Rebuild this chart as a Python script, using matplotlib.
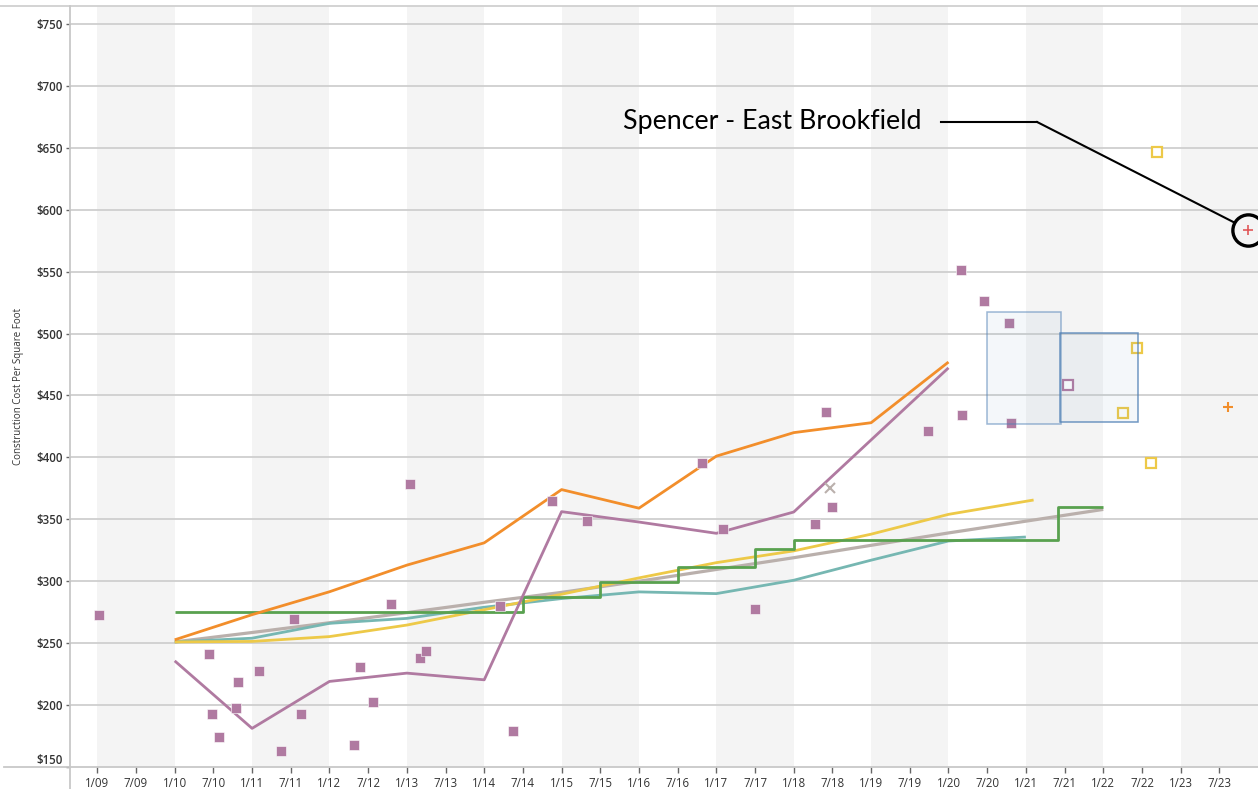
import matplotlib
matplotlib.use("Agg")
import matplotlib.pyplot as plt
from matplotlib.patches import Rectangle
from matplotlib.lines import Line2D

# ---------------- data ----------------
tick_pos = [2009 + 0.5 * i for i in range(30)]
tick_labels = []
for i in range(30):
    yr = 9 + i // 2
    tick_labels.append(("1/" if i % 2 == 0 else "7/") + f"{yr:02d}")
band_years = [2009, 2011, 2013, 2015, 2017, 2019, 2021, 2023]

y_ticks = [150, 200, 250, 300, 350, 400, 450, 500, 550, 600, 650, 700, 750]

orange_x = [2010, 2011, 2012, 2013, 2014, 2015, 2016, 2017, 2018, 2019, 2020]
orange_y = [252.7, 273, 291.5, 313, 331, 374, 359, 401, 420, 428, 477]

purple_x = [2010, 2011, 2012, 2013, 2014, 2015, 2016, 2017, 2018, 2020]
purple_y = [235.7, 181.2, 219.1, 225.8, 220.4, 356.2, 347.8, 338.7, 355.9, 472.3]

teal_x = [2010, 2011, 2012, 2013, 2014, 2015, 2016, 2017, 2018, 2019, 2020, 2021]
teal_y = [251, 254, 266, 270, 279, 286, 291.4, 290, 300.8, 317, 332.5, 335.7]

yellow_x = [2010, 2011, 2012, 2013, 2014, 2015, 2016, 2017, 2018, 2019, 2020, 2021.1]
yellow_y = [251, 251.4, 255.3, 264.6, 277, 289.5, 302.7, 315, 324.5, 338, 354, 365.6]

trend_x = [2010, 2011, 2012, 2013, 2014, 2015, 2016, 2017, 2018, 2019, 2020, 2021, 2022]
trend_y = [251, 258.6, 266.5, 274.6, 283, 291, 300, 309.5, 319, 329, 339, 348.5, 358]

green_x = [2010, 2014.5, 2015.5, 2016.5, 2017.5, 2018.0, 2021.42, 2022.0]
green_y = [275, 287.4, 299, 311.8, 326.3, 333, 360, 360]

sq_x = [2009.02, 2010.445, 2010.48, 2010.575, 2010.794, 2010.824, 2011.09, 2011.38,
        2011.54, 2011.635, 2012.32, 2012.395, 2012.56, 2012.80, 2013.045, 2013.17,
        2013.25, 2014.21, 2014.37, 2014.87, 2015.33, 2016.81, 2017.08, 2017.5,
        2018.27, 2018.42, 2018.49, 2019.73, 2020.16, 2020.18, 2020.46, 2020.78, 2020.81]
sq_y = [273.1, 241.4, 192.7, 174.4, 197.8, 218.8, 227.2, 163.1,
        269.9, 192.7, 168.0, 230.9, 202.4, 282.0, 378.8, 237.7,
        243.5, 280.1, 179.0, 364.5, 348.9, 395.2, 342.5, 277.4,
        346.5, 436.5, 360.2, 421.2, 551.4, 434.1, 526.6, 508.6, 427.7]

hollow_purple = ([2021.54], [458.1])
hollow_yellow = ([2022.44, 2022.25, 2022.62, 2022.70], [488.2, 435.5, 395.7, 646.8])
grey_x_pt = ([2018.475], [375.6])
orange_plus = ([2023.61], [441.1])
red_plus = ([2023.875], [583.9])

# boxes: (x0, x1, y_low, y_high)
boxes = [(2020.50, 2021.45, 426.9, 517.5), (2021.44, 2022.45, 428.8, 500.2)]

annot_text = "Spencer - East Brookfield"
annot_text_pos = (2015.80, 671)
annot_knee = [(2019.90, 2021.14), (671, 671)]

# ---------------- colours ----------------
C_ORANGE = "#f28e2b"
C_PURPLE = "#b07aa1"
C_TEAL = "#76b7b2"
C_YELLOW = "#edc948"
C_GREEN = "#59a14f"
C_GREY = "#bab0ac"
C_RED = "#e15759"
C_BLUE = "#4e79a7"

plt.rcParams['font.family'] = ['Open Sans', 'DejaVu Sans']

fig = plt.figure(figsize=(12.58, 7.89), dpi=100)
ax = fig.add_axes([70 / 1258, (789 - 767) / 789, (1258 - 70) / 1258, (767 - 6) / 789])
ax.set_xlim(2008.647, 2024.0)
ax.set_ylim(150, 764.5)

for by in band_years:
    ax.axvspan(by, by + 1, color="#f4f4f4", lw=0, zorder=0)

for yv in y_ticks[1:]:
    ax.axhline(yv, color="#cfcfcf", lw=1.3, zorder=0.5)

lw = 2.0
ax.plot(trend_x, trend_y, color=C_GREY, lw=lw + 0.3, zorder=3, solid_capstyle='butt')
ax.plot(teal_x, teal_y, color=C_TEAL, lw=lw, zorder=3, solid_capstyle='butt')
ax.plot(yellow_x, yellow_y, color=C_YELLOW, lw=lw, zorder=3, solid_capstyle='butt')
ax.plot(green_x, green_y, color=C_GREEN, lw=lw, zorder=3.2, drawstyle='steps-post', solid_capstyle='butt')
ax.plot(orange_x, orange_y, color=C_ORANGE, lw=lw, zorder=3.4, solid_capstyle='butt')
ax.plot(purple_x, purple_y, color=C_PURPLE, lw=lw, zorder=3.4, solid_capstyle='butt')

ax.plot(sq_x, sq_y, ls='none', marker='s', ms=7.2, mfc=C_PURPLE, mec='white', mew=0.4, zorder=4)
ax.plot(*hollow_purple, ls='none', marker='s', ms=6.5, mfc='white', mec=C_PURPLE, mew=1.6, zorder=4)
ax.plot(*hollow_yellow, ls='none', marker='s', ms=6.5, mfc='white', mec=C_YELLOW, mew=1.6, zorder=4)
ax.plot(*grey_x_pt, ls='none', marker='x', ms=6.5, mec=C_GREY, mew=1.5, zorder=4)
ax.plot(*orange_plus, ls='none', marker='+', ms=7.5, mec=C_ORANGE, mew=1.5, zorder=4)
ax.plot(*red_plus, ls='none', marker='+', ms=7.5, mec=C_RED, mew=1.2, zorder=4)

for (x0, x1, ylo, yhi), ea in zip(boxes, [0.55, 0.8]):
    ax.add_patch(Rectangle((x0, ylo), x1 - x0, yhi - ylo, facecolor="#6a9bc3", alpha=0.07,
                           edgecolor='none', zorder=5))
    ax.add_patch(Rectangle((x0, ylo), x1 - x0, yhi - ylo, facecolor='none',
                           edgecolor="#4e7fb5", alpha=ea, lw=1.1, zorder=5))

# annotation
ax.text(annot_text_pos[0], annot_text_pos[1], annot_text, fontsize=19.3, family=['Lato', 'DejaVu Sans'],
        ha='left', va='center', color='black', zorder=6)
ax.plot(annot_knee[0], annot_knee[1], color='black', lw=1.5, zorder=6)
ax.annotate('', xy=(red_plus[0][0], red_plus[1][0]), xytext=(annot_knee[0][1], annot_knee[1][1]),
            arrowprops=dict(arrowstyle='-', color='black', lw=1.5, shrinkA=0, shrinkB=11.5), zorder=6)
ax.plot(*red_plus, ls='none', marker='o', ms=22.5, mfc='none', mec='black', mew=2.4, zorder=6)

# axes styling
for s in ax.spines.values():
    s.set_visible(False)
ax.set_xticks(tick_pos)
ax.set_xticklabels(tick_labels, fontsize=8.3, color='#333333')
ax.set_yticks(y_ticks)
ax.set_yticklabels([f"${v}" for v in y_ticks], fontsize=8.3, color='#333333', fontweight='semibold')
ax.tick_params(axis='x', length=4, width=1, color='#666666', pad=3)
ax.tick_params(axis='y', length=3, width=1, color='#666666', pad=2)
ax.get_yticklabels()[0].set_verticalalignment('bottom')
ax.set_ylabel("Construction Cost Per Square Foot", fontsize=7, color='#333333')
ax.yaxis.set_label_coords(-0.039, 0.5)

# frame lines (figure coords)
fig.add_artist(Line2D([0, 1], [1 - 6 / 789, 1 - 6 / 789], color='#d0d0d0', lw=1.3))
fig.add_artist(Line2D([4 / 1258, 1], [(789 - 767) / 789] * 2, color='#c8c8c8', lw=1.3))
fig.add_artist(Line2D([70 / 1258] * 2, [0, 1 - 6 / 789], color='#c8c8c8', lw=1.3))

fig.savefig("out.png", dpi=100)
